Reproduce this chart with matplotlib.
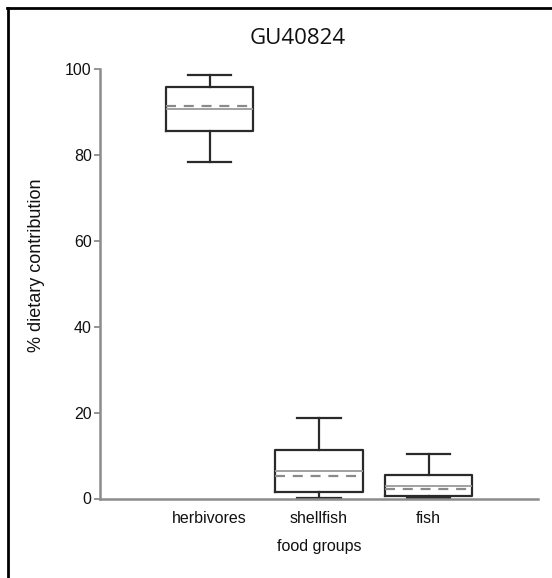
import matplotlib
matplotlib.use("Agg")
import matplotlib.pyplot as plt
from matplotlib.lines import Line2D

categories = ["herbivores", "shellfish", "fish"]
whisker_low = [78.3, 0.2, 0.2]
q1 = [85.6, 1.5, 0.6]
median = [90.6, 6.3, 2.9]
mean = [91.5, 5.3, 2.1]
q3 = [95.7, 11.3, 5.5]
whisker_high = [98.6, 18.8, 10.3]
y_ticks = [0, 20, 40, 60, 80, 100]

FONT = "Liberation Sans"

fig = plt.figure(figsize=(5.52, 5.78), dpi=100)
ax = fig.add_axes([100/552, 1 - 498.5/578, 438/552, 429.5/578])

stats = []
for i, c in enumerate(categories):
    stats.append(dict(label=c, whislo=whisker_low[i], q1=q1[i], med=median[i],
                      mean=mean[i], q3=q3[i], whishi=whisker_high[i], fliers=[]))

box_color = "#2a2a2a"
ax.bxp(stats, positions=[1, 2, 3], widths=0.8, capwidths=0.4,
       showmeans=True, meanline=True, showfliers=False,
       boxprops=dict(color=box_color, linewidth=1.6),
       whiskerprops=dict(color=box_color, linewidth=1.6),
       capprops=dict(color=box_color, linewidth=1.6),
       medianprops=dict(color="#9a9a9a", linewidth=1.3),
       meanprops=dict(color="#8a8a8a", linewidth=1.6, linestyle=(0, (4.5, 3.5))))

ax.set_xlim(0, 4)
ax.set_ylim(0, 100)
ax.set_yticks(y_ticks)
ax.set_xticks([1, 2, 3])
ax.set_xticklabels(categories)

for s in ["top", "right"]:
    ax.spines[s].set_visible(False)
for s in ["left", "bottom"]:
    ax.spines[s].set_color("#8c8c8c")
    ax.spines[s].set_linewidth(1.8)

ax.tick_params(axis="y", length=4, width=1.3, color="#8c8c8c",
               labelsize=11.5, labelcolor="#111111", pad=2)
ax.tick_params(axis="x", length=0, labelsize=11.5, labelcolor="#111111", pad=9)
for lab in ax.get_xticklabels() + ax.get_yticklabels():
    lab.set_family(FONT)

ax.set_xlabel("food groups", family=FONT, fontsize=11.5,
              color="#111111", labelpad=9)
ax.set_ylabel("% dietary contribution", family=FONT, fontsize=13,
              color="#111111")
ax.yaxis.set_label_coords(-0.125, 0.544)

fig.text(298/552, 1 - 38/578, "GU40824", family="Open Sans", fontsize=16,
         ha="center", va="center", color="#111111")

# figure border (left and top visible)
fig.add_artist(Line2D([7.5/552, 7.5/552], [0, 1 - 8/578], transform=fig.transFigure,
                      color="black", linewidth=2.0))
fig.add_artist(Line2D([6.5/552, 1], [1 - 8/578, 1 - 8/578], transform=fig.transFigure,
                      color="black", linewidth=2.0))

fig.savefig("out.png", dpi=100, facecolor="white")
